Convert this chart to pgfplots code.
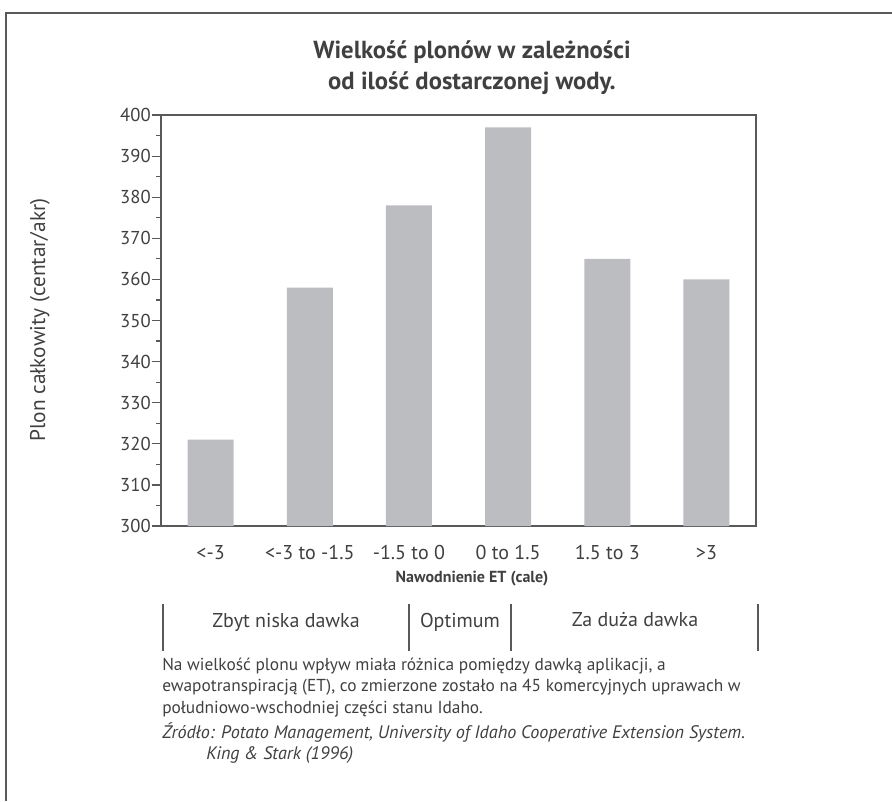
\documentclass[border=0pt]{standalone}
\usepackage{fontspec}
\setmainfont{PT Sans}
\usepackage{pgfplots}
\pgfplotsset{compat=1.18}
\definecolor{bargray}{HTML}{BCBDC0}
\definecolor{txt}{HTML}{404041}
\definecolor{frame}{HTML}{58595B}

\begin{document}
\begin{tikzpicture}[x=0.75pt,y=-0.75pt]
\path[use as bounding box] (0,0) rectangle (892,801);
% outer frame (only top and left visible)
\draw[frame, line width=2.2pt] (6,801) -- (6,13) -- (892,13);

\begin{axis}[
    at={(120.75pt,-86.25pt)}, anchor=north west,
    scale only axis, width=446.25pt, height=308.25pt,
    ymin=300, ymax=400,
    xmin=-0.5, xmax=5.5,
    ytick={300,310,...,400},
    minor y tick num=1,
    xtick={0,...,5},
    xticklabels={<-3, <-3 to -1.5, -1.5 to 0, 0 to 1.5, 1.5 to 3, >3},
    x tick style={draw=none},
    ytick pos=left,
    tick align=outside,
    major tick length=7pt,
    minor tick length=3.5pt,
    y tick style={frame, line width=0.9pt},
    axis line style={frame, line width=1.2pt},
    yticklabel style={font=\fontsize{14}{16}\selectfont, text=txt, inner sep=0.5pt},
    xticklabel style={font=\fontsize{15}{17}\selectfont, text=txt, yshift=-4pt},
    /pgf/number format/assume math mode=true,
    /pgf/number format/1000 sep={},
    ybar, bar width=34.5pt,
]
\addplot[fill=bargray, draw=none] coordinates {
    (0,321) (1,358) (2,378) (3,397) (4,365) (5,360)
};
\end{axis}

% title
\node[text=txt, font=\bfseries\fontsize{18.5}{21}\selectfont, align=center]
    at (472,68) {Wielkość plonów w zależności\\[2pt]od ilość dostarczonej wody.};
% y label
\node[text=txt, font=\fontsize{16}{18}\selectfont, rotate=90] at (40,320)
    {Plon całkowity (centar/akr)};
% x label
\node[text=txt, font=\bfseries\fontsize{12}{14}\selectfont] at (472,579)
    {Nawodnienie ET (cale)};

% dose ranges
\foreach \xx in {163,409,511,758}
    \draw[frame, line width=1.1pt] (\xx,604) -- (\xx,651);
\node[text=txt, font=\fontsize{15}{17}\selectfont] at (286,622) {Zbyt niska dawka};
\node[text=txt, font=\fontsize{15}{17}\selectfont] at (460,622) {Optimum};
\node[text=txt, font=\fontsize{15}{17}\selectfont] at (635,620) {Za duża dawka};

% note
\begin{scope}[every node/.style={text=txt, anchor=west, inner sep=0pt}]
\node[font=\fontsize{13}{15}\selectfont] at (162,666)
    {Na wielkość plonu wpływ miała różnica pomiędzy dawką aplikacji, a};
\node[font=\fontsize{13}{15}\selectfont] at (162,687)
    {ewapotranspiracją (ET), co zmierzone zostało na 45 komercyjnych uprawach w};
\node[font=\fontsize{13}{15}\selectfont] at (162,709)
    {południowo-wschodniej części stanu Idaho.};
\node[font=\itshape\fontsize{13.6}{15}\selectfont] at (162,733)
    {Źródło: Potato Management, University of Idaho Cooperative Extension System.};
\node[font=\itshape\fontsize{13.6}{15}\selectfont] at (206,755)
    {King \& Stark (1996)};
\end{scope}
\end{tikzpicture}
\end{document}
